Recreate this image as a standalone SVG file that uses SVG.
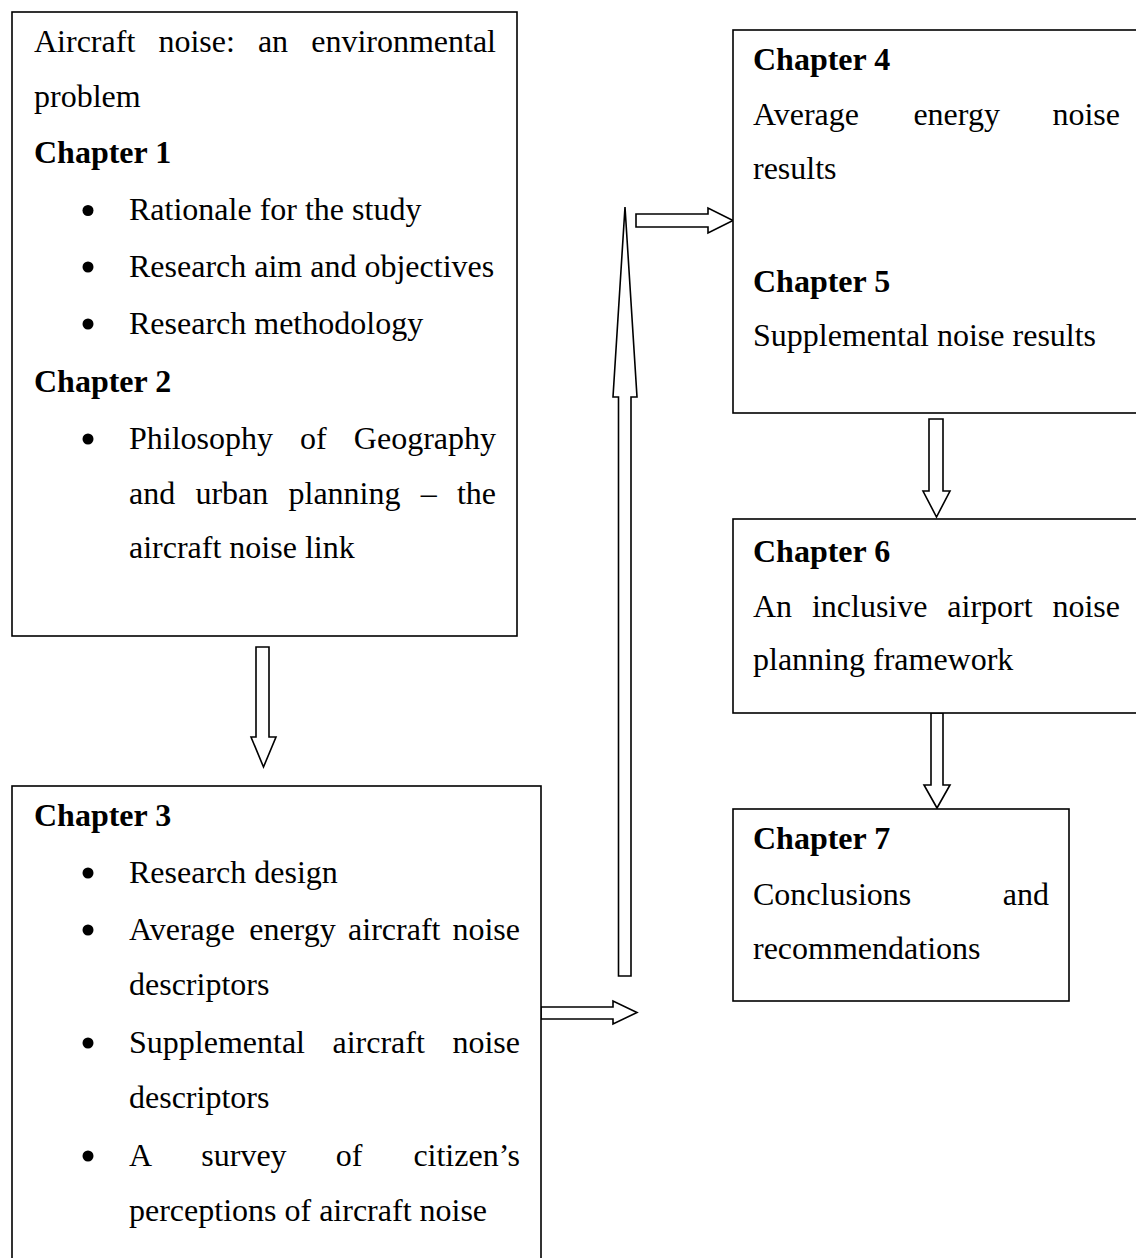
<svg xmlns="http://www.w3.org/2000/svg" width="1136" height="1258" viewBox="0 0 1136 1258">
<style>
.box{fill:#fff;stroke:#000;stroke-width:1.6}
.arr{fill:#fff;stroke:#000;stroke-width:1.6;stroke-linejoin:miter}
text{font-family:"Liberation Serif","Times New Roman",serif;font-size:32px;fill:#000}
.b{font-weight:bold}
.e{text-anchor:end}
.dot{fill:#000}
</style>
<rect width="1136" height="1258" fill="#fff"/>
<g id="connectors">
<polygon class="arr" points="256,647 269,647 269,737 276,737 263.5,767 251,737 256,737"/>
<polygon class="arr" points="541,1007 613,1007 613,1001 637,1012.5 613,1024 613,1019 541,1019"/>
<polygon class="arr" points="618.5,976 631,976 631,397 637,397 625,207 613,397 618.5,397"/>
<polygon class="arr" points="636,214 708,214 708,208 733,220.5 708,233 708,227 636,227"/>
<polygon class="arr" points="929,419 943,419 943,491 950,491 936.5,517 923,491 929,491"/>
<polygon class="arr" points="931,713 943,713 943,785 950,785 937,808 924,785 931,785"/>
</g>
<g id="node-ch1-2">
<rect class="box" x="12" y="12" width="505" height="624"/>
<text x="34" y="52">Aircraft</text>
<text x="158.4" y="52">noise:</text>
<text x="257.9" y="52">an</text>
<text class="e" x="496" y="52">environmental</text>
<text x="34" y="107">problem</text>
<text class="b" x="34" y="163">Chapter 1</text>
<circle class="dot" cx="88" cy="210.5" r="5.5"/>
<text x="129" y="220">Rationale for the study</text>
<circle class="dot" cx="88" cy="267" r="5.5"/>
<text x="129" y="277">Research aim and objectives</text>
<circle class="dot" cx="88" cy="324" r="5.5"/>
<text x="129" y="334">Research methodology</text>
<text class="b" x="34" y="392">Chapter 2</text>
<circle class="dot" cx="88" cy="439" r="5.5"/>
<text x="129" y="449">Philosophy</text>
<text x="300.1" y="449">of</text>
<text class="e" x="496" y="449">Geography</text>
<text x="129" y="504">and</text>
<text x="195.4" y="504">urban</text>
<text x="288.5" y="504">planning</text>
<text x="420.7" y="504">–</text>
<text class="e" x="496" y="504">the</text>
<text x="129" y="558">aircraft noise link</text>
</g>
<g id="node-ch3">
<rect class="box" x="12" y="786" width="529" height="500"/>
<text class="b" x="34" y="826">Chapter 3</text>
<circle class="dot" cx="88" cy="873" r="5.5"/>
<text x="129" y="883">Research design</text>
<circle class="dot" cx="88" cy="930" r="5.5"/>
<text x="129" y="940">Average</text>
<text x="249.2" y="940">energy</text>
<text x="348.1" y="940">aircraft</text>
<text class="e" x="520" y="940">noise</text>
<text x="129" y="995">descriptors</text>
<circle class="dot" cx="88" cy="1043" r="5.5"/>
<text x="129" y="1053">Supplemental</text>
<text x="332.5" y="1053">aircraft</text>
<text class="e" x="520" y="1053">noise</text>
<text x="129" y="1108">descriptors</text>
<circle class="dot" cx="88" cy="1156" r="5.5"/>
<text x="129" y="1166">A</text>
<text x="201.3" y="1166">survey</text>
<text x="335.8" y="1166">of</text>
<text class="e" x="520" y="1166">citizen’s</text>
<text x="129" y="1221">perceptions of aircraft noise</text>
</g>
<g id="node-ch4-5">
<rect class="box" x="733" y="30" width="420" height="383"/>
<text class="b" x="753" y="70">Chapter 4</text>
<text x="753" y="125">Average</text>
<text x="913.4" y="125">energy</text>
<text class="e" x="1120" y="125">noise</text>
<text x="753" y="179">results</text>
<text class="b" x="753" y="292">Chapter 5</text>
<text x="753" y="346">Supplemental noise results</text>
</g>
<g id="node-ch6">
<rect class="box" x="733" y="519" width="420" height="194"/>
<text class="b" x="753" y="562">Chapter 6</text>
<text x="753" y="617">An</text>
<text x="811.9" y="617">inclusive</text>
<text x="947.3" y="617">airport</text>
<text class="e" x="1120" y="617">noise</text>
<text x="753" y="670">planning framework</text>
</g>
<g id="node-ch7">
<rect class="box" x="733" y="809" width="336" height="192"/>
<text class="b" x="753" y="849">Chapter 7</text>
<text x="753" y="905">Conclusions</text>
<text class="e" x="1049" y="905">and</text>
<text x="753" y="959">recommendations</text>
</g>
</svg>
